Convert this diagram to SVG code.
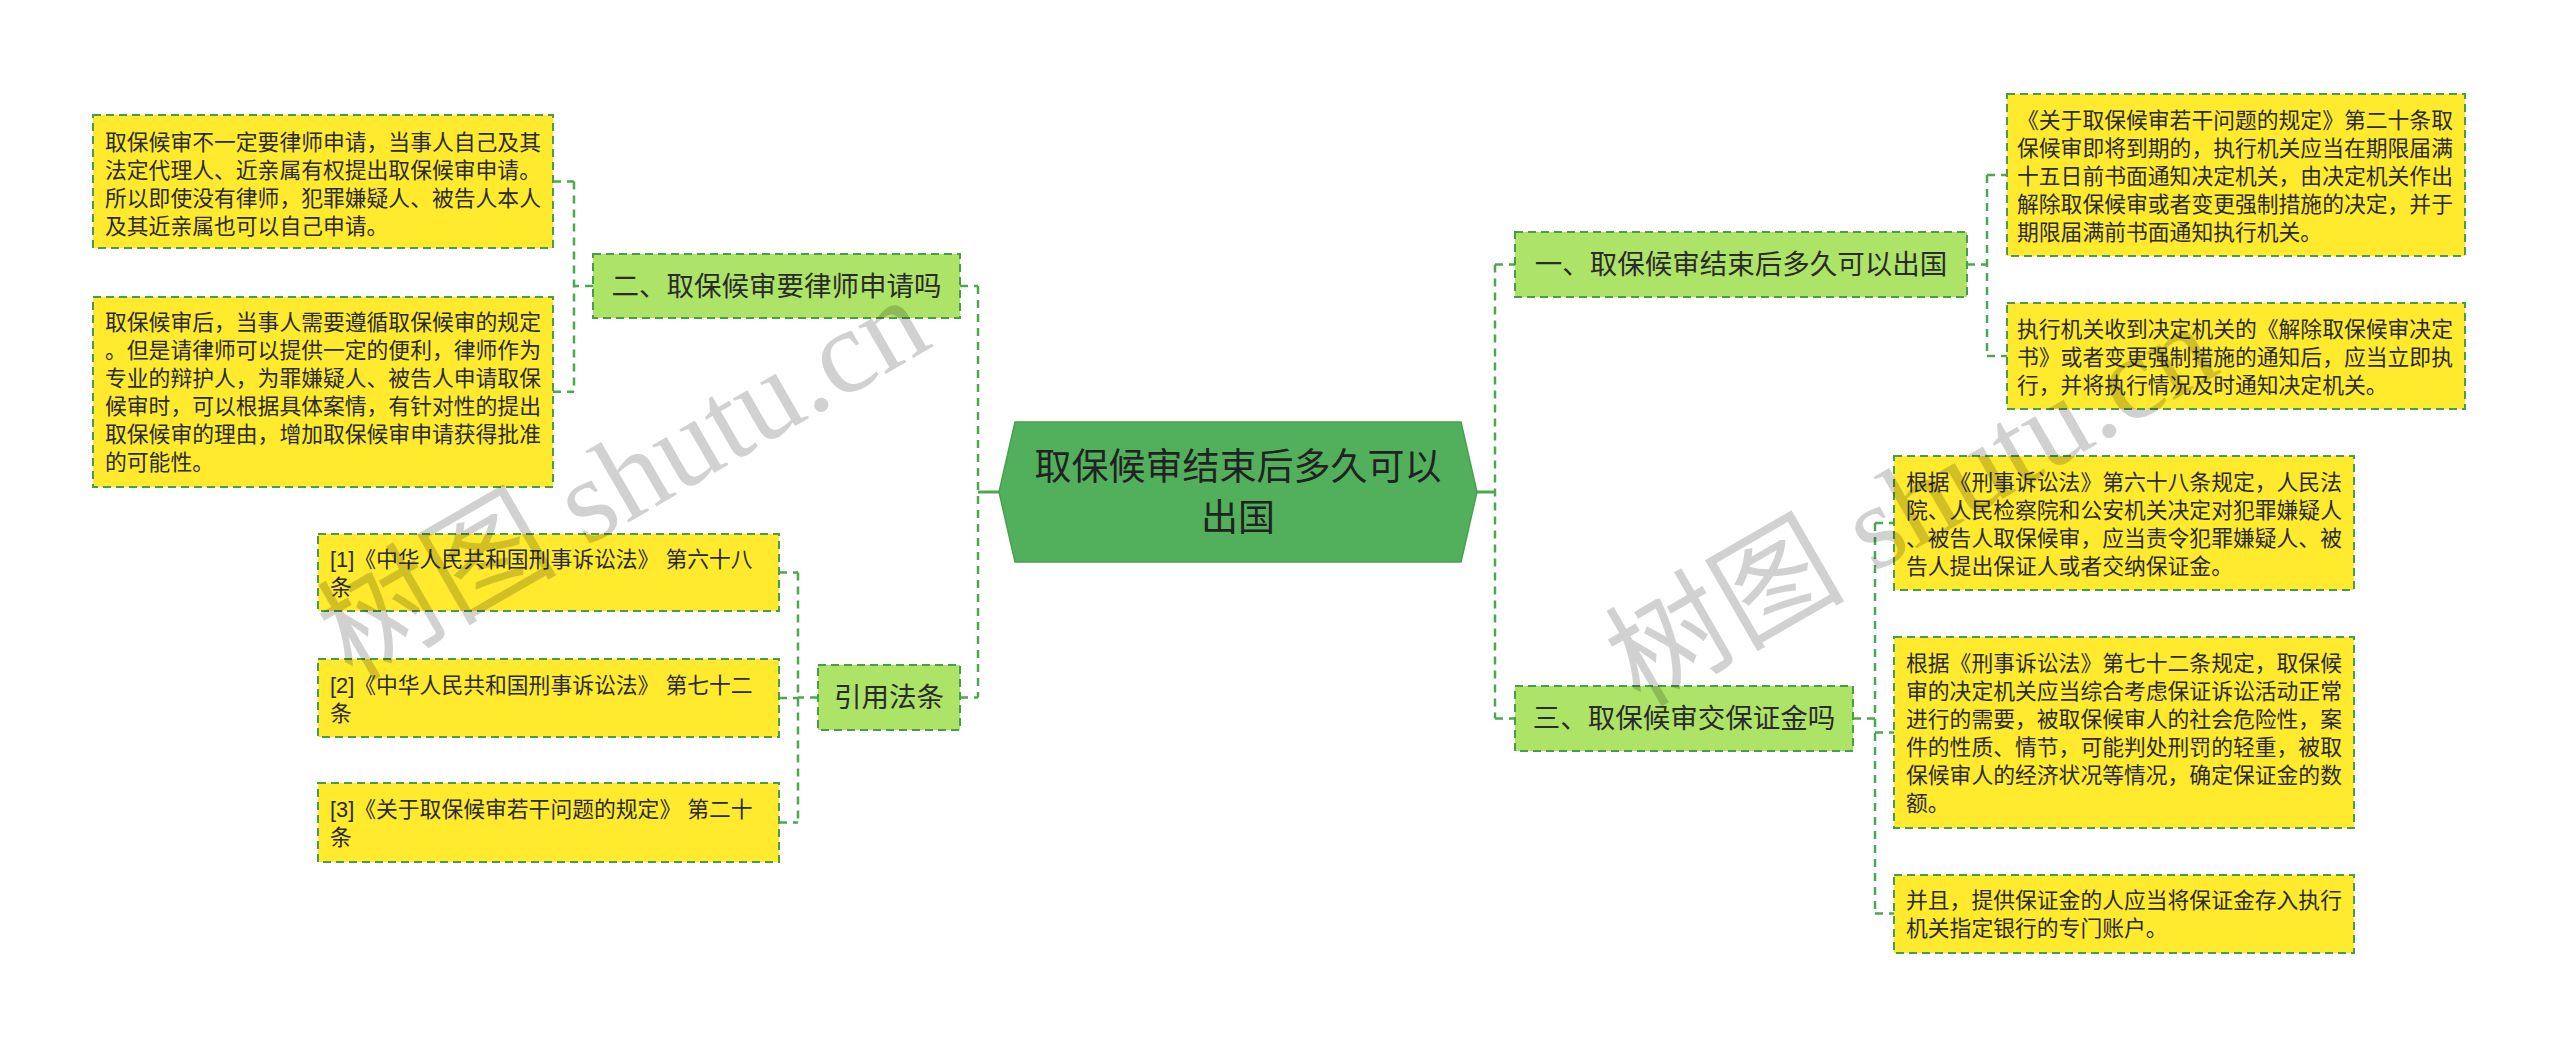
<svg xmlns="http://www.w3.org/2000/svg" width="2560" height="1047" viewBox="0 0 2560 1047">
<defs>
<style>
.bg{fill:#ffffff}
.con{fill:none;stroke:#4ea64e;stroke-width:2.5;stroke-dasharray:8 6}
.solid{fill:none;stroke:#4ea64e;stroke-width:3}
.leaf{fill:#ffea2e;stroke:#4a9d48;stroke-width:2;stroke-dasharray:8 5}
.branch{fill:#ade367;stroke:#4a9d48;stroke-width:2;stroke-dasharray:8 5}
.root{fill:#52b05c;stroke:#47a050;stroke-width:1.5}
.t{font-family:"Liberation Sans","Noto Sans CJK SC",sans-serif;fill:#2b2b2b;dominant-baseline:central}
.lt{font-size:21.8px}
.bt{font-size:27.5px;text-anchor:middle}
.rt{font-size:37px;text-anchor:middle;fill:#222}
.wm{font-family:"Liberation Serif","Noto Sans CJK SC",serif;font-size:120px;fill:#000;fill-opacity:0.18}
</style>
</defs>
<rect class="bg" x="0" y="0" width="2560" height="1047"/>

<g id="connectors">
  <path class="solid" d="M999 492 H978"/>
  <path class="solid" d="M1477 492 H1495"/>
  <path class="con" d="M978 286 V697.5"/>
  <path class="con" d="M960 286 H978"/>
  <path class="con" d="M960 697.5 H978"/>
  <path class="con" d="M1495 264.5 V718.5"/>
  <path class="con" d="M1495 264.5 H1515"/>
  <path class="con" d="M1495 718.5 H1515"/>
  <path class="con" d="M574 181.5 V391.7"/>
  <path class="con" d="M593 286 H574"/>
  <path class="con" d="M553 181.5 H574"/>
  <path class="con" d="M553 391.7 H574"/>
  <path class="con" d="M798 572.5 V822.5"/>
  <path class="con" d="M818 697.5 H798"/>
  <path class="con" d="M779 572.5 H798"/>
  <path class="con" d="M779 698 H798"/>
  <path class="con" d="M779 822.5 H798"/>
  <path class="con" d="M1987 175 V356"/>
  <path class="con" d="M1967 264.5 H1987"/>
  <path class="con" d="M1987 175 H2007"/>
  <path class="con" d="M1987 356 H2007"/>
  <path class="con" d="M1875 523 V913.5"/>
  <path class="con" d="M1853 718.5 H1875"/>
  <path class="con" d="M1875 523 H1894"/>
  <path class="con" d="M1875 732.5 H1894"/>
  <path class="con" d="M1875 913.5 H1894"/>
</g>

<g id="root">
  <polygon class="root" points="999,492 1015,422 1461,422 1477,492 1461,562 1015,562"/>
  <text class="t rt" x="1238" y="467">取保候审结束后多久可以</text>
  <text class="t rt" x="1238" y="518">出国</text>
</g>

<g id="node-er">
  <rect class="branch" x="593" y="254" width="367" height="64"/>
  <text class="t bt" x="776.5" y="286">二、取保候审要律师申请吗</text>
</g>
<g id="leaf-er-1">
  <rect class="leaf" x="93" y="115" width="460" height="133"/>
  <text class="t lt" x="105" y="142.5">取保候审不一定要律师申请，当事人自己及其</text>
  <text class="t lt" x="105" y="170.5">法定代理人、近亲属有权提出取保候审申请。</text>
  <text class="t lt" x="105" y="198.5">所以即使没有律师，犯罪嫌疑人、被告人本人</text>
  <text class="t lt" x="105" y="226.5">及其近亲属也可以自己申请。</text>
</g>
<g id="leaf-er-2">
  <rect class="leaf" x="93" y="297" width="460" height="190"/>
  <text class="t lt" x="105" y="322.7">取保候审后，当事人需要遵循取保候审的规定</text>
  <text class="t lt" x="105" y="350.7">。但是请律师可以提供一定的便利，律师作为</text>
  <text class="t lt" x="105" y="378.7">专业的辩护人，为罪嫌疑人、被告人申请取保</text>
  <text class="t lt" x="105" y="406.7">候审时，可以根据具体案情，有针对性的提出</text>
  <text class="t lt" x="105" y="434.7">取保候审的理由，增加取保候审申请获得批准</text>
  <text class="t lt" x="105" y="462.7">的可能性。</text>
</g>

<g id="node-law">
  <rect class="branch" x="818" y="665" width="142" height="65"/>
  <text class="t bt" x="889" y="697.5">引用法条</text>
</g>
<g id="leaf-law-1">
  <rect class="leaf" x="318" y="534" width="461" height="77"/>
  <text class="t lt" x="330" y="559.5">[1]《中华人民共和国刑事诉讼法》 第六十八</text>
  <text class="t lt" x="330" y="587.5">条</text>
</g>
<g id="leaf-law-2">
  <rect class="leaf" x="318" y="659" width="461" height="78"/>
  <text class="t lt" x="330" y="685">[2]《中华人民共和国刑事诉讼法》 第七十二</text>
  <text class="t lt" x="330" y="713">条</text>
</g>
<g id="leaf-law-3">
  <rect class="leaf" x="318" y="783" width="461" height="79"/>
  <text class="t lt" x="330" y="809.5">[3]《关于取保候审若干问题的规定》 第二十</text>
  <text class="t lt" x="330" y="837.5">条</text>
</g>

<g id="node-yi">
  <rect class="branch" x="1515" y="232" width="452" height="65"/>
  <text class="t bt" x="1741" y="264.5">一、取保候审结束后多久可以出国</text>
</g>
<g id="leaf-yi-1">
  <rect class="leaf" x="2007" y="94" width="458" height="162"/>
  <text class="t lt" x="2017" y="120">《关于取保候审若干问题的规定》第二十条取</text>
  <text class="t lt" x="2017" y="148">保候审即将到期的，执行机关应当在期限届满</text>
  <text class="t lt" x="2017" y="176">十五日前书面通知决定机关，由决定机关作出</text>
  <text class="t lt" x="2017" y="204">解除取保候审或者变更强制措施的决定，并于</text>
  <text class="t lt" x="2017" y="232">期限届满前书面通知执行机关。</text>
</g>
<g id="leaf-yi-2">
  <rect class="leaf" x="2007" y="303" width="458" height="106"/>
  <text class="t lt" x="2017" y="329">执行机关收到决定机关的《解除取保候审决定</text>
  <text class="t lt" x="2017" y="357">书》或者变更强制措施的通知后，应当立即执</text>
  <text class="t lt" x="2017" y="385">行，并将执行情况及时通知决定机关。</text>
</g>

<g id="node-san">
  <rect class="branch" x="1515" y="686" width="338" height="65"/>
  <text class="t bt" x="1684" y="718.5">三、取保候审交保证金吗</text>
</g>
<g id="leaf-san-1">
  <rect class="leaf" x="1894" y="456" width="460" height="134"/>
  <text class="t lt" x="1906" y="482">根据《刑事诉讼法》第六十八条规定，人民法</text>
  <text class="t lt" x="1906" y="510">院、人民检察院和公安机关决定对犯罪嫌疑人</text>
  <text class="t lt" x="1906" y="538">、被告人取保候审，应当责令犯罪嫌疑人、被</text>
  <text class="t lt" x="1906" y="566">告人提出保证人或者交纳保证金。</text>
</g>
<g id="leaf-san-2">
  <rect class="leaf" x="1894" y="637" width="460" height="191"/>
  <text class="t lt" x="1906" y="663.5">根据《刑事诉讼法》第七十二条规定，取保候</text>
  <text class="t lt" x="1906" y="691.5">审的决定机关应当综合考虑保证诉讼活动正常</text>
  <text class="t lt" x="1906" y="719.5">进行的需要，被取保候审人的社会危险性，案</text>
  <text class="t lt" x="1906" y="747.5">件的性质、情节，可能判处刑罚的轻重，被取</text>
  <text class="t lt" x="1906" y="775.5">保候审人的经济状况等情况，确定保证金的数</text>
  <text class="t lt" x="1906" y="803.5">额。</text>
</g>
<g id="leaf-san-3">
  <rect class="leaf" x="1894" y="875" width="460" height="78"/>
  <text class="t lt" x="1906" y="900.5">并且，提供保证金的人应当将保证金存入执行</text>
  <text class="t lt" x="1906" y="928.5">机关指定银行的专门账户。</text>
</g>

<g id="watermarks">
  <text class="wm" x="352" y="682" transform="rotate(-30 352 682)">树图 shutu.cn</text>
  <text class="wm" x="1640" y="708" transform="rotate(-30 1640 708)">树图 shutu.cn</text>
</g>
</svg>
